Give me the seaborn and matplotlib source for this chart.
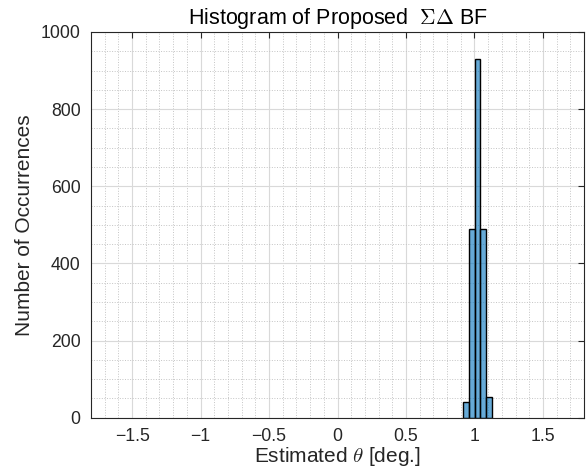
import numpy as np
import matplotlib
matplotlib.use('Agg')
import matplotlib.pyplot as plt
import seaborn as sns
from matplotlib.ticker import MultipleLocator

# histogram bins
bin_edges = [0.918, 0.959, 1.001, 1.043, 1.085, 1.127]
counts = [41, 488, 929, 488, 54]
x_ticks = [-1.5, -1, -0.5, 0, 0.5, 1, 1.5]
x_tick_labels = ['\u22121.5', '\u22121', '\u22120.5', '0', '0.5', '1', '1.5']
y_ticks = [0, 200, 400, 600, 800, 1000]

bin_centers = [(a + b) / 2 for a, b in zip(bin_edges[:-1], bin_edges[1:])]

sns.set_style('white')
plt.rcParams['font.family'] = ['Liberation Sans', 'DejaVu Sans']
plt.rcParams['mathtext.fontset'] = 'cm'
plt.rcParams['axes.unicode_minus'] = True

fig = plt.figure(figsize=(5.86, 4.76), dpi=100)
ax = fig.add_axes([0.1553, 0.1225, 0.8413, 0.8103])

sns.histplot(x=bin_centers, weights=counts, bins=bin_edges, ax=ax,
             color='#0072BD', alpha=0.6, edgecolor='black', linewidth=1.0)

ax.set_xlim(-1.8, 1.8)
ax.set_ylim(0, 1000)
ax.set_xticks(x_ticks)
ax.set_xticklabels(x_tick_labels)
ax.set_yticks(y_ticks)
ax.xaxis.set_minor_locator(MultipleLocator(0.1))
ax.yaxis.set_minor_locator(MultipleLocator(50))

ax.grid(which='major', color='#d9d9d9', linestyle='-', linewidth=0.8)
ax.grid(which='minor', color='#c4c4c4', linestyle=':', linewidth=0.7)
ax.set_axisbelow(True)

ax.tick_params(which='major', direction='in', length=4, width=0.8,
               top=True, right=True, labelsize=12.7, colors='#262626',
               color='#262626', pad=7.5)
ax.tick_params(which='minor', length=0)
for s in ax.spines.values():
    s.set_color('#262626')
    s.set_linewidth(0.8)

ax.set_title('Histogram of Proposed  $\\Sigma\\Delta$ BF', fontsize=15.5,
             color='black', pad=6)
ax.set_xlabel('Estimated $\\theta$ [deg.]', fontsize=15, color='#262626',
              labelpad=0)
ax.set_ylabel('Number of Occurrences', fontsize=15, color='#262626',
              labelpad=5)

fig.savefig('out.png', dpi=100)
